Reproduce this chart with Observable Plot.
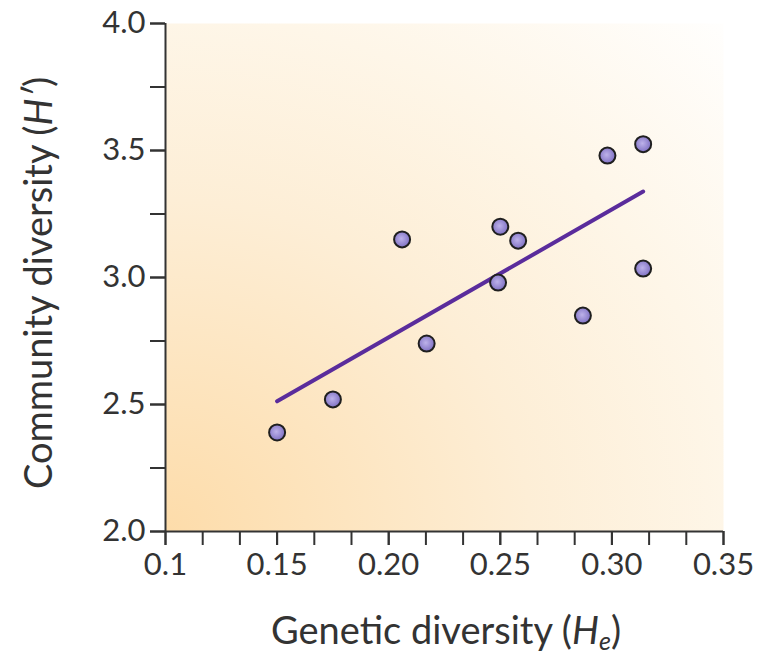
<!DOCTYPE html>
<html>
<head>
<meta charset="utf-8">
<script src="https://cdn.jsdelivr.net/npm/d3@7"></script>
<script src="https://cdn.jsdelivr.net/npm/@observablehq/plot@0.6"></script>
<style>
  html, body { margin: 0; padding: 0; background: #fff; }
  #chart svg { display: block; }
</style>
</head>
<body>
<div id="chart"></div>
<script>
// Genetic diversity (He) of each population
const geneticDiversity = [0.150, 0.175, 0.206, 0.217, 0.250, 0.249, 0.258, 0.287, 0.298, 0.314, 0.314];
// Community diversity (H') of each population
const communityDiversity = [2.39, 2.52, 3.15, 2.74, 3.20, 2.98, 3.145, 2.85, 3.48, 3.525, 3.035];

const xMajorTicks = [0.10, 0.15, 0.20, 0.25, 0.30, 0.35];
const xTickLabels = ["0.1", "0.15", "0.20", "0.25", "0.30", "0.35"];
const xMinorTicks = [0.1, 0.11667, 0.13333, 0.15, 0.16667, 0.18333, 0.20, 0.21667, 0.23333, 0.25, 0.26667, 0.28333, 0.30, 0.31667, 0.33333, 0.35];
const yMajorTicks = [2.0, 2.5, 3.0, 3.5, 4.0];
const yTickLabels = ["2.0", "2.5", "3.0", "3.5", "4.0"];
const yMinorTicks = [2.0, 2.25, 2.5, 2.75, 3.0, 3.25, 3.5, 3.75, 4.0];

const data = geneticDiversity.map((x, i) => ({x, y: communityDiversity[i]}));

const ink = "#333333";
const font = "Lato, 'Open Sans', sans-serif";
const lookup = (vals, labels) => d => labels[vals.findIndex(v => Math.abs(v - d) < 1e-6)] ?? "";

const svg = Plot.plot({
  width: 769,
  height: 659,
  marginLeft: 165,
  marginRight: 46,
  marginTop: 23,
  marginBottom: 128,
  style: {fontFamily: font, background: "#fff", color: ink, overflow: "visible"},
  x: {domain: [0.1, 0.35]},
  y: {domain: [2, 4]},
  marks: [
    Plot.frame({fill: "url(#bgGrad)", stroke: null}),
    Plot.axisX(xMinorTicks, {tickSize: 14, strokeWidth: 2, text: null, label: null, stroke: ink}),
    Plot.axisX(xMajorTicks, {tickSize: 14, tickPadding: 7, strokeWidth: 2, tickFormat: lookup(xMajorTicks, xTickLabels), fontSize: 31, label: null, stroke: ink, fill: ink}),
    Plot.axisY(yMinorTicks, {tickSize: 15, strokeWidth: 2, text: null, label: null, stroke: ink}),
    Plot.axisY(yMajorTicks, {tickSize: 15, tickPadding: 5, strokeWidth: 2, tickFormat: lookup(yMajorTicks, yTickLabels), fontSize: 31, label: null, stroke: ink, fill: ink}),
    Plot.ruleX([0.1], {stroke: ink, strokeWidth: 2}),
    Plot.ruleY([2], {stroke: ink, strokeWidth: 2}),
    Plot.linearRegressionY(data, {x: "x", y: "y", ci: 0, stroke: "#5a2c9c", strokeWidth: 4}),
    Plot.dot(data, {x: "x", y: "y", r: 8, fill: "url(#dotGrad)", stroke: "#1f1f1f", strokeWidth: 2})
  ]
});

const root = d3.select(svg);
const defs = root.insert("defs", ":first-child");
const bg = defs.append("radialGradient").attr("id", "bgGrad")
  .attr("cx", 0).attr("cy", 1).attr("fx", 0).attr("fy", 1).attr("r", 1.45);
[[0, "#fddcaa"], [0.45, "#fdeed6"], [0.7, "#fef6e8"], [1, "#ffffff"]].forEach(([o, c]) =>
  bg.append("stop").attr("offset", o).attr("stop-color", c));
const dg = defs.append("radialGradient").attr("id", "dotGrad")
  .attr("cx", 0.45).attr("cy", 0.45).attr("r", 0.6);
[[0, "#bdb2ea"], [1, "#7a6bc0"]].forEach(([o, c]) =>
  dg.append("stop").attr("offset", o).attr("stop-color", c));

const xs = svg.scale("x"), ys = svg.scale("y");
const xMid = (xs.range[0] + xs.range[1]) / 2;
const yMid = (ys.range[0] + ys.range[1]) / 2;

const xl = root.append("text")
  .attr("x", xMid + 2).attr("y", 644)
  .attr("text-anchor", "middle")
  .attr("font-family", font).attr("font-size", 38).attr("fill", ink);
xl.append("tspan").text("Genetic diversity (");
xl.append("tspan").attr("font-style", "italic").text("H");
xl.append("tspan").attr("font-style", "italic").attr("font-size", 25).attr("dy", 6).text("e");
xl.append("tspan").attr("dy", -6).text(")");

const yl = root.append("text")
  .attr("transform", `translate(52,${yMid + 6}) rotate(-90)`)
  .attr("text-anchor", "middle")
  .attr("font-family", font).attr("font-size", 38).attr("fill", ink);
yl.append("tspan").text("Community diversity (");
yl.append("tspan").attr("font-style", "italic").text("H′");
yl.append("tspan").text(")");

document.getElementById("chart").appendChild(svg);
</script>
</body>
</html>
